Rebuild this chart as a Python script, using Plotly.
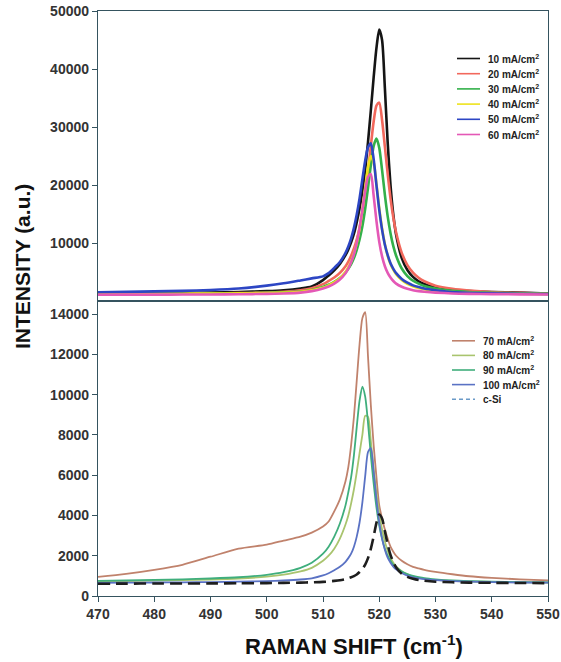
import plotly.graph_objects as go

# Raman shift grid (cm^-1)
x_shift = [470, 475, 480, 485, 490, 495, 500, 503, 506, 508, 510, 511, 512, 513, 514,
           514.5, 515, 515.5, 516, 516.5, 517, 517.5, 518, 518.5, 519, 519.5, 520, 520.5,
           521, 521.5, 522, 522.5, 523, 524, 525, 526, 527, 528, 530, 533, 536, 540, 545, 550]

# Top panel series (a.u.)
i_10 = [1300, 1350, 1350, 1400, 1450, 1550, 1700, 1850, 2150, 2500, 3600, 4400, 5300, 6400, 7900,
        8900, 10100, 11600, 13600, 16000, 19000, 22700, 27400, 32800, 38500, 43600, 46800, 45000,
        36700, 27300, 20000, 14900, 11400, 7400, 5350, 4150, 3400, 2950, 2350, 1900, 1700, 1550, 1450, 1300]
i_20 = [1150, 1200, 1200, 1250, 1300, 1350, 1450, 1600, 1850, 2200, 2900, 3450, 4050, 4850, 6000,
        6800, 7800, 9050, 10600, 12600, 15200, 18400, 22300, 26700, 30900, 33700, 34200, 31200,
        26600, 21900, 17700, 14400, 11800, 8300, 6200, 4900, 4000, 3400, 2650, 2100, 1800, 1550, 1400, 1250]
i_30 = [1200, 1220, 1250, 1250, 1280, 1320, 1400, 1500, 1650, 1900, 2400, 2800, 3300, 3950, 4900,
        5550, 6350, 7400, 8800, 10600, 12900, 15900, 19500, 23400, 26700, 28000, 26400, 22600,
        18300, 14600, 11700, 9450, 7800, 5600, 4300, 3500, 3000, 2600, 2150, 1750, 1550, 1420, 1320, 1220]
i_40 = [1200, 1220, 1230, 1250, 1280, 1320, 1380, 1450, 1600, 1850, 2300, 2700, 3200, 3900, 5000,
        5800, 6800, 8200, 10000, 12500, 15700, 19500, 23000, 25000, 23900, 20200, 16000, 12500,
        9800, 7800, 6400, 5400, 4600, 3600, 2950, 2550, 2250, 2050, 1770, 1550, 1420, 1330, 1260, 1200]
i_50 = [1500, 1580, 1660, 1750, 1900, 2150, 2650, 3050, 3550, 3900, 4250, 4800, 5700, 6700, 8300,
        9400, 10800, 12600, 14900, 17700, 21000, 24200, 26500, 27200, 24500, 20000, 15700, 12300,
        9700, 7900, 6500, 5550, 4800, 3800, 3150, 2700, 2400, 2150, 1850, 1550, 1420, 1330, 1250, 1200]
i_60 = [1080, 1100, 1100, 1110, 1130, 1170, 1220, 1300, 1450, 1700, 2150, 2500, 3000, 3700, 4800,
        5600, 6700, 8100, 10100, 12600, 15700, 19000, 21400, 21900, 18200, 13800, 10200, 7700,
        6000, 4850, 4050, 3450, 3000, 2450, 2100, 1850, 1700, 1600, 1450, 1300, 1230, 1180, 1150, 1120]

# Bottom panel series (a.u.)
i_70 = [950, 1100, 1300, 1550, 1950, 2350, 2550, 2750, 2950, 3150, 3450, 3700, 4200, 4800, 5700,
        6400, 7500, 8900, 10700, 12500, 13800, 14100, 11900, 9500, 7500, 5900, 4500, 3850,
        3300, 2850, 2450, 2200, 2000, 1750, 1580, 1450, 1370, 1300, 1200, 1080, 980, 900, 830, 780]
i_80 = [720, 740, 760, 790, 820, 870, 960, 1060, 1220, 1400, 1750, 2000, 2350, 2850, 3550,
        4000, 4600, 5300, 6150, 7100, 8000, 8950, 8900, 7700, 6300, 5100, 4100, 3300,
        2700, 2250, 1900, 1650, 1470, 1230, 1080, 980, 910, 860, 800, 750, 720, 700, 680, 670]
i_90 = [750, 780, 800, 830, 870, 930, 1050, 1180, 1400, 1650, 2100, 2450, 2950, 3600, 4500,
        5150, 5900, 7000, 8400, 9700, 10400, 9900, 8600, 7000, 5600, 4400, 3500, 2850,
        2350, 2000, 1750, 1550, 1420, 1220, 1090, 1000, 940, 890, 830, 770, 740, 710, 690, 680]
i_100 = [650, 660, 670, 680, 690, 710, 740, 770, 820, 880, 1020, 1130, 1280, 1450, 1700,
         1880, 2100, 2450, 2950, 3650, 4650, 5950, 7150, 7350, 6200, 4800, 3650, 2850,
         2300, 1900, 1650, 1460, 1320, 1140, 1010, 930, 880, 840, 790, 740, 710, 690, 670, 660]
i_csi = [610, 615, 620, 620, 625, 630, 640, 650, 665, 680, 700, 720, 750, 785, 840,
         880, 930, 990, 1070, 1190, 1340, 1560, 1880, 2340, 2950, 3630, 4050, 3850,
         3220, 2560, 2040, 1680, 1420, 1110, 950, 855, 795, 757, 710, 680, 665, 655, 645, 640]

top_names = ["10 mA/cm<sup>2</sup>", "20 mA/cm<sup>2</sup>", "30 mA/cm<sup>2</sup>",
             "40 mA/cm<sup>2</sup>", "50 mA/cm<sup>2</sup>", "60 mA/cm<sup>2</sup>"]
top_series = [i_10, i_20, i_30, i_40, i_50, i_60]
top_colors = ["#151515", "#f2685c", "#33b04a", "#eee21c", "#2d46c4", "#e458b6"]

bot_names = ["70 mA/cm<sup>2</sup>", "80 mA/cm<sup>2</sup>", "90 mA/cm<sup>2</sup>",
             "100 mA/cm<sup>2</sup>", "c-Si"]
bot_series = [i_70, i_80, i_90, i_100, i_csi]
bot_colors = ["#c0826c", "#a9c46e", "#3fae7c", "#5a72c4", "#1e1e1e"]
bot_dash = ["solid", "solid", "solid", "solid", "12px,6px"]

x_ticks = [470, 480, 490, 500, 510, 520, 530, 540, 550]
top_yticks = [10000, 20000, 30000, 40000, 50000]
bot_yticks = [0, 2000, 4000, 6000, 8000, 10000, 12000, 14000]

# plot box in window pixels: x 98..548, y 11..596 (panels split at 301)
PX_L, PX_R, PX_T, PX_B, PX_SPLIT = 98, 548, 11, 596, 301
W, H = 561, 662
L, T = PX_L, PX_T
R = W - PX_R
B = H - PX_B
plot_w = PX_R - PX_L
plot_h = PX_B - PX_T
split = (PX_B - PX_SPLIT) / plot_h

fig = go.Figure()
for name, ys, col in zip(top_names, top_series, top_colors):
    fig.add_trace(go.Scatter(x=x_shift, y=ys, name=name, mode="lines",
                             line=dict(color=col, width=2.6, shape="spline", smoothing=0.7),
                             xaxis="x2", yaxis="y2", showlegend=False))
for name, ys, col, d in zip(bot_names, bot_series, bot_colors, bot_dash):
    fig.add_trace(go.Scatter(x=x_shift, y=ys, name=name, mode="lines",
                             line=dict(color=col, width=2.6 if d != "solid" else 1.8, dash=d,
                                       shape="spline", smoothing=0.7),
                             xaxis="x", yaxis="y", showlegend=False))

def bold(vals):
    return ["<b>%d</b>" % v for v in vals]

axcol = "#35535f"
tickfont = dict(family="Liberation Sans, Arial, sans-serif", size=14, color="#333333")
common = dict(showline=True, linecolor=axcol, linewidth=1.3, mirror=True, showgrid=False,
              zeroline=False, ticks="outside", ticklen=5, tickcolor=axcol, tickwidth=1.2,
              tickfont=tickfont, automargin=False)

fig.update_layout(
    width=W, height=H, margin=dict(l=L, r=R, t=T, b=B),
    paper_bgcolor="white", plot_bgcolor="white",
    xaxis=dict(domain=[0, 1], range=[470, 550], tickvals=x_ticks, ticktext=bold(x_ticks),
               anchor="y", **common),
    xaxis2=dict(domain=[0, 1], range=[470, 550], anchor="y2", matches="x", automargin=False,
                showline=True, linecolor=axcol, linewidth=1.3, mirror=True, showgrid=False,
                zeroline=False, showticklabels=False, ticks=""),
    yaxis=dict(domain=[0, split], range=[0, 14650], tickvals=bot_yticks, ticktext=bold(bot_yticks),
               anchor="x", **common),
    yaxis2=dict(domain=[split, 1], range=[0, 50000], tickvals=top_yticks, ticktext=bold(top_yticks),
                anchor="x2", **common),
    showlegend=False,
)

def px_x(p):
    return (p - PX_L) / plot_w

def px_y(p):
    return (PX_B - p) / plot_h

legfont = dict(family="Liberation Sans, Arial, sans-serif", size=10, color="#222222")

# manual legends (built from the series lists)
for k, (name, col) in enumerate(zip(top_names, top_colors)):
    yy = 58.5 + 15.2 * k
    fig.add_shape(type="line", xref="paper", yref="paper", x0=px_x(457), x1=px_x(480),
                  y0=px_y(yy), y1=px_y(yy), line=dict(color=col, width=1.6))
    fig.add_annotation(xref="paper", yref="paper", x=px_x(486), y=px_y(yy), text="<b>" + name + "</b>",
                       showarrow=False, xanchor="left", yanchor="middle", font=legfont)
for k, (name, col, d) in enumerate(zip(bot_names, bot_colors, bot_dash)):
    yy = 340.8 + 14.6 * k
    fig.add_shape(type="line", xref="paper", yref="paper", x0=px_x(452), x1=px_x(475),
                  y0=px_y(yy), y1=px_y(yy),
                  line=dict(color=col if d == "solid" else "#6a9ac8", width=1.6,
                            dash="solid" if d == "solid" else "4px,3px"))
    fig.add_annotation(xref="paper", yref="paper", x=px_x(481), y=px_y(yy), text="<b>" + name + "</b>",
                       showarrow=False, xanchor="left", yanchor="middle", font=legfont)

titlefont = dict(family="Liberation Sans, Arial, sans-serif", color="#111111")
fig.add_annotation(xref="paper", yref="paper", x=px_x(22), y=px_y(267), text="<b>INTENSITY (a.u.)</b>",
                   textangle=-90, showarrow=False, xanchor="center", yanchor="middle",
                   font=dict(size=21, **titlefont))
fig.add_annotation(xref="paper", yref="paper", x=px_x(354), y=px_y(645),
                   text="<b>RAMAN SHIFT (cm<sup>-1</sup>)</b>",
                   showarrow=False, xanchor="center", yanchor="middle",
                   font=dict(size=22, **titlefont))

post = "document.body.style.margin='0';document.body.style.overflow='hidden';"
fig.write_html("out.html", config={"displayModeBar": False}, post_script=post)
